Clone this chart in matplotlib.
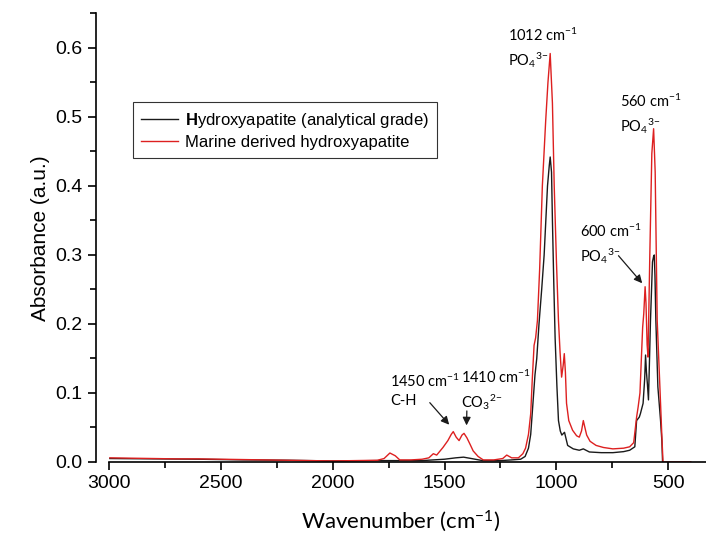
import numpy as np
import matplotlib
matplotlib.use("Agg")
import matplotlib.pyplot as plt
from matplotlib.ticker import MultipleLocator

plt.rcParams['mathtext.fontset'] = 'custom'
plt.rcParams['mathtext.rm'] = 'Lato'
plt.rcParams['mathtext.bf'] = 'Liberation Sans:bold'
plt.rcParams['mathtext.default'] = 'regular'

# Marine derived hydroxyapatite (red)
wn_marine = [2995, 2900, 2800, 2700, 2600, 2500, 2400, 2300, 2200, 2100, 2000, 1900,
             1800, 1770, 1744, 1720, 1700, 1650, 1600, 1570, 1550, 1535, 1507, 1485,
             1470, 1461, 1448, 1435, 1422, 1413, 1400, 1385, 1372, 1350, 1327, 1280,
             1240, 1222, 1200, 1170, 1150, 1138, 1125, 1115, 1108, 1100, 1093, 1085,
             1075, 1063, 1048, 1038, 1028, 1018, 1010, 1000, 991, 984, 977, 970, 965,
             960, 955, 945, 928, 910, 898, 888, 880, 873, 865, 850, 823, 790, 748, 700,
             673, 655, 642, 635, 627, 615, 610, 604, 600, 595, 591, 583, 574, 566, 559,
             550, 538, 529, 524, 500, 450, 400]
abs_marine = [0.006, 0.0055, 0.005, 0.0045, 0.0045, 0.004, 0.0035, 0.003, 0.0025, 0.002,
              0.0015, 0.002, 0.0025, 0.005, 0.013, 0.009, 0.003, 0.003, 0.004, 0.006,
              0.012, 0.010, 0.021, 0.031, 0.040, 0.044, 0.036, 0.031, 0.039, 0.0415,
              0.035, 0.025, 0.016, 0.008, 0.003, 0.003, 0.005, 0.010, 0.006, 0.006,
              0.012, 0.020, 0.040, 0.070, 0.120, 0.169, 0.180, 0.205, 0.280, 0.400,
              0.495, 0.550, 0.592, 0.520, 0.400, 0.290, 0.205, 0.160, 0.123, 0.140,
              0.157, 0.130, 0.085, 0.060, 0.046, 0.038, 0.036, 0.045, 0.060, 0.050,
              0.039, 0.030, 0.024, 0.021, 0.019, 0.020, 0.022, 0.028, 0.065, 0.080,
              0.100, 0.195, 0.215, 0.254, 0.230, 0.170, 0.152, 0.300, 0.447, 0.483,
              0.420, 0.205, 0.109, 0.036, 0.0, 0.0, 0.0, 0.0]

# Hydroxyapatite, analytical grade (black)
wn_hap = [2995, 2800, 2600, 2400, 2200, 2000, 1800, 1600, 1500, 1450, 1415, 1380, 1330,
          1250, 1200, 1160, 1140, 1125, 1115, 1105, 1096, 1088, 1078, 1066, 1055, 1040,
          1032, 1028, 1022, 1018, 1012, 1006, 998, 991, 983, 976, 964, 950, 925, 898,
          880, 853, 800, 748, 700, 673, 650, 642, 630, 625, 613, 606, 602, 598, 594,
          589, 585, 580, 571, 566, 563, 560, 556, 547, 535, 529, 526]
abs_hap = [0.005, 0.0045, 0.004, 0.003, 0.0025, 0.0015, 0.002, 0.002, 0.004, 0.006, 0.007,
           0.005, 0.002, 0.002, 0.003, 0.004, 0.008, 0.020, 0.040, 0.085, 0.126, 0.150,
           0.200, 0.250, 0.300, 0.400, 0.430, 0.442, 0.420, 0.350, 0.260, 0.180, 0.110,
           0.060, 0.045, 0.039, 0.043, 0.024, 0.019, 0.017, 0.019, 0.0145, 0.0135,
           0.0135, 0.015, 0.017, 0.022, 0.060, 0.065, 0.070, 0.085, 0.120, 0.155, 0.130,
           0.114, 0.090, 0.140, 0.205, 0.290, 0.298, 0.300, 0.270, 0.205, 0.109, 0.060,
           0.030, 0.0]

fig = plt.figure(figsize=(7.06, 5.37), dpi=100)
ax = fig.add_axes([0.1356, 0.1397, 0.8644, 0.8352])

ax.plot(wn_hap, abs_hap, color='#1a1a1a', lw=1.0,
        label='$\\mathbf{H}$ydroxyapatite (analytical grade)')
ax.plot(wn_marine, abs_marine, color='#dd2020', lw=1.0,
        label='Marine derived hydroxyapatite')

ax.set_xlim(3058, 332)
ax.set_ylim(0, 0.65)
ax.spines['top'].set_visible(False)
ax.spines['right'].set_visible(False)
ax.spines['left'].set_bounds(0, 0.65)
ax.spines['bottom'].set_bounds(3000, 332)
for s in ['left', 'bottom']:
    ax.spines[s].set_linewidth(1.2)

ax.xaxis.set_major_locator(MultipleLocator(500))
ax.xaxis.set_minor_locator(MultipleLocator(250))
ax.yaxis.set_major_locator(MultipleLocator(0.1))
ax.yaxis.set_minor_locator(MultipleLocator(0.05))
ax.tick_params(which='major', direction='out', length=6, width=1.2, labelsize=14)
ax.tick_params(which='minor', direction='out', length=4, width=1.2)
for lab in ax.get_xticklabels() + ax.get_yticklabels():
    lab.set_fontfamily('Liberation Sans')

ax.set_ylabel('Absorbance (a.u.)', fontsize=15, family='Liberation Sans')
ax.set_xlabel('Wavenumber (cm$^{-1}$)', fontsize=16, family='Lato', labelpad=12)

po4 = 'PO$_4{}^{3{-}}$'
ann = dict(fontsize=10.5, family='Lato', ha='left', va='center', linespacing=1.4)
ax.text(1217, 0.600, '1012 cm$^{-1}$\n' + po4, **ann)
ax.text(716, 0.504, '560 cm$^{-1}$\n' + po4, **ann)
ax.text(895, 0.315, '600 cm$^{-1}$\n' + po4, **ann)
ax.text(1744, 0.104, '1450 cm$^{-1}$\nC-H', **ann)
ax.text(1425, 0.104, '1410 cm$^{-1}$\nCO$_3{}^{2{-}}$', **ann)

arrow = dict(arrowstyle='-|>', color='#1a1a1a', lw=0.9, mutation_scale=12)
ax.annotate('', xy=(609, 0.256), xytext=(731, 0.302), arrowprops=arrow)
ax.annotate('', xy=(1471, 0.051), xytext=(1574, 0.089), arrowprops=arrow)
ax.annotate('', xy=(1402, 0.049), xytext=(1400, 0.078), arrowprops=arrow)

leg = ax.legend(loc='upper left', bbox_to_anchor=(0.061, 0.802), borderaxespad=0,
                prop={'family': 'Liberation Sans', 'size': 12}, frameon=True,
                fancybox=False, handlelength=2.2, handletextpad=0.4,
                borderpad=0.5, labelspacing=0.3)
leg.get_frame().set_edgecolor('black')
leg.get_frame().set_linewidth(0.8)

fig.savefig('out.png', dpi=100)
